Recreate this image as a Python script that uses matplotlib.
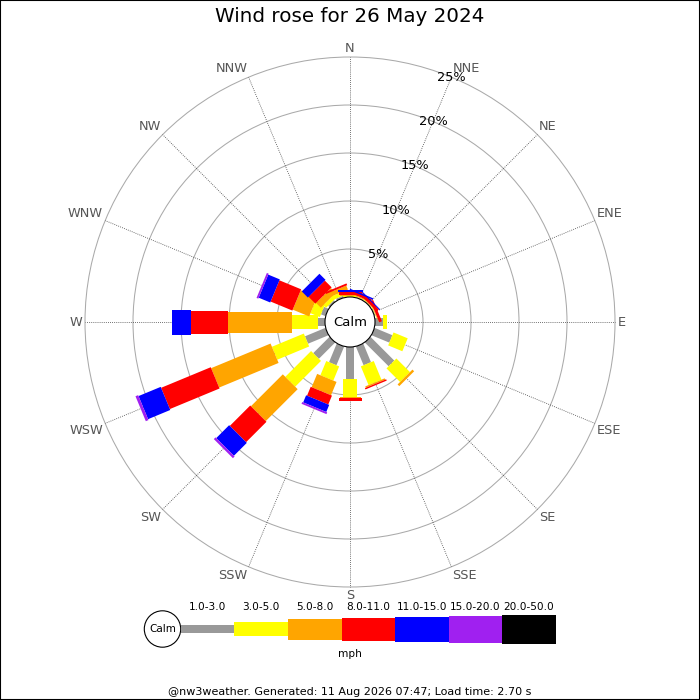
import numpy as np
import matplotlib.pyplot as plt
from matplotlib.patches import Polygon, Circle, Rectangle

directions = ['N', 'NNE', 'NE', 'ENE', 'E', 'ESE', 'SE', 'SSE',
              'S', 'SSW', 'SW', 'WSW', 'W', 'WNW', 'NW', 'NNW']
bands = ['1.0-3.0', '3.0-5.0', '5.0-8.0', '8.0-11.0', '11.0-15.0', '15.0-20.0', '20.0-50.0']
band_colors = ['#999999', '#ffff00', '#ffa500', '#ff0000', '#0000ff', '#a020f0', '#000000']

# percent of time per direction, per speed band
pct_1_3 = [0.05, 0.05, 0.05, 0.1, 0.87, 2.0, 3.5, 2.1, 3.3, 2.1, 2.4, 2.3, 0.73, 0.5, 0.2, 0.2]
pct_3_5 = [0.1, 0.05, 0.05, 0.05, 0.38, 1.6, 2.0, 2.1, 1.9, 1.6, 3.8, 3.6, 2.67, 1.05, 0.4, 0.4]
pct_5_8 = [0.1, 0.1, 0.05, 0.05, 0, 0, 0.25, 0.15, 0.15, 1.5, 4.7, 6.7, 6.7, 1.85, 0.7, 0.45]
pct_8_11 = [0.3, 0.25, 0.3, 0.3, 0, 0, 0, 0.15, 0.25, 1.0, 3.0, 5.6, 3.9, 2.45, 1.0, 0.2]
pct_11_15 = [0.15, 0.15, 0.1, 0, 0, 0, 0, 0, 0, 0.8, 1.9, 2.5, 1.9, 1.3, 0.9, 0]
pct_15_20 = [0, 0, 0, 0, 0, 0, 0, 0, 0, 0.2, 0.25, 0.3, 0, 0.2, 0, 0]
pct_20_50 = [0] * 16

ring_pcts = [5, 10, 15, 20, 25]
title = 'Wind rose for 26 May 2024'
footer = '@nw3weather. Generated: 11 Aug 2026 07:47; Load time: 2.70 s'

values = np.array([pct_1_3, pct_3_5, pct_5_8, pct_8_11, pct_11_15, pct_15_20, pct_20_50])
cum = np.cumsum(values, axis=0)

PX = 9.6                       # pixels per percent
calm_r = 25 / PX
band_w = np.array([8, 14, 21, 23, 25, 27, 29]) / PX
theta = np.deg2rad(np.arange(16) * 22.5)

fig = plt.figure(figsize=(7, 7), dpi=100)
ax = fig.add_axes([0, 0, 1, 1])
ax.set_xlim(-350 / PX, 350 / PX)
ax.set_ylim(-378 / PX, 322 / PX)
ax.axis('off')

# rings and spokes
for p in ring_pcts:
    ax.add_patch(Circle((0, 0), calm_r + p, fill=False, ec='#aaaaaa', lw=0.75, zorder=1))
rmax = calm_r + ring_pcts[-1]
for t in theta:
    ax.plot([calm_r * np.sin(t), rmax * np.sin(t)], [calm_r * np.cos(t), rmax * np.cos(t)],
            color='#444444', lw=0.6, ls=(0, (1, 1.5)), zorder=1)

# direction labels, anchored at the spoke ends
for t, d in zip(theta, directions):
    s, c = np.sin(t), np.cos(t)
    ha = 'left' if s > 0.01 else ('right' if s < -0.01 else 'center')
    va = 'bottom' if c > 0.01 else ('top' if c < -0.01 else 'center')
    rl = rmax + 0.25
    ax.text(rl * s, rl * c, d, ha=ha, va=va, fontsize=9.3, color='#555555')

# bars
for b in range(len(bands)):
    for i, t in enumerate(theta):
        if values[b, i] <= 0:
            continue
        r0 = calm_r + cum[b, i] - values[b, i]
        r1 = calm_r + cum[b, i]
        u = np.array([np.sin(t), np.cos(t)])
        pv = np.array([np.cos(t), -np.sin(t)]) * band_w[b] / 2
        pts = [r0 * u - pv, r1 * u - pv, r1 * u + pv, r0 * u + pv]
        ax.add_patch(Polygon(pts, closed=True, fc=band_colors[b], ec='none', zorder=2 + b))

# percent labels along NNE
for p in ring_pcts:
    r = calm_r + p
    ax.text(r * np.sin(theta[1]), r * np.cos(theta[1]), f'{p}%', ha='center', va='center',
            fontsize=9.3, color='black', zorder=20)

ax.add_patch(Circle((0, 0), calm_r, fc='white', ec='black', lw=0.8, zorder=15))
ax.text(0, 0, 'Calm', ha='center', va='center', fontsize=9.5, zorder=16)

# legend
lax = fig.add_axes([0, 0, 1, 1])
lax.set_xlim(0, 700)
lax.set_ylim(700, 0)
lax.axis('off')
seg = 53.6
x0 = 180.7
yc = 629
lax.add_patch(Circle((162.5, yc), 18.2, fc='white', ec='black', lw=0.8))
lax.text(162.5, yc, 'Calm', ha='center', va='center', fontsize=7.5)
for b, (lab, col) in enumerate(zip(bands, band_colors)):
    h = band_w[b] * PX
    lax.add_patch(Rectangle((x0 + b * seg, yc - h / 2), seg, h, fc=col, ec='none'))
    lax.text(x0 + (b + 0.5) * seg, 607, lab, ha='center', va='center', fontsize=7.6)
lax.text(350, 654, 'mph', ha='center', va='center', fontsize=7.6)

fig.text(0.5, 1 - 17 / 700, title, ha='center', va='center', fontsize=14.3)
fig.text(0.5, 1 - 692 / 700, footer, ha='center', va='center', fontsize=8)
fig.patches.append(Rectangle((0, 0), 1, 1, transform=fig.transFigure, fill=False,
                             ec='black', lw=1.5))

fig.savefig('out.png', dpi=100)
